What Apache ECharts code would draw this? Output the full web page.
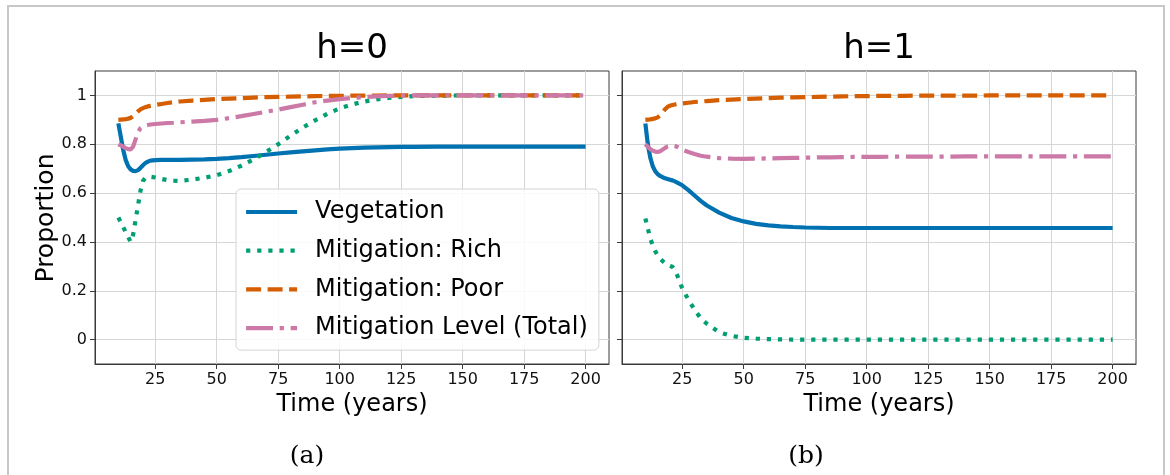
<!DOCTYPE html>
<html>
<head>
<meta charset="utf-8">
<script src="https://cdn.jsdelivr.net/npm/echarts@6/dist/echarts.min.js"></script>
<style>
html,body{margin:0;padding:0;background:#fff;}
#chart{width:1170px;height:475px;}
</style>
</head>
<body>
<div id="chart"></div>
<script>
// ---- data ----
var years = [10, 11, 12, 13, 14, 15, 16, 17, 18, 19, 20, 21, 22, 23, 25, 27.5, 30, 32.5, 35, 40, 45, 50, 55, 60, 65, 70, 75, 80, 85, 90, 95, 100, 105, 110, 115, 120, 125, 130, 140, 150, 175, 200];

// panel (a) h=0
var veg0  = [0.885, 0.83, 0.775, 0.735, 0.71, 0.697, 0.691, 0.69, 0.694, 0.703, 0.714, 0.723, 0.729, 0.733, 0.735, 0.736, 0.736, 0.736, 0.736, 0.737, 0.738, 0.740, 0.743, 0.747, 0.752, 0.757, 0.762, 0.767, 0.771, 0.775, 0.779, 0.782, 0.784, 0.786, 0.787, 0.788, 0.789, 0.789, 0.79, 0.79, 0.79, 0.79];
var rich0 = [0.50, 0.48, 0.46, 0.44, 0.42, 0.40, 0.43, 0.49, 0.55, 0.61, 0.65, 0.662, 0.667, 0.667, 0.664, 0.658, 0.653, 0.651, 0.650, 0.655, 0.663, 0.673, 0.69, 0.712, 0.738, 0.768, 0.800, 0.835, 0.868, 0.898, 0.925, 0.947, 0.963, 0.975, 0.984, 0.990, 0.994, 0.997, 0.999, 1.0, 1.0, 1.0];
var poor0 = [0.90, 0.901, 0.902, 0.903, 0.905, 0.908, 0.915, 0.925, 0.935, 0.943, 0.948, 0.952, 0.955, 0.957, 0.961, 0.965, 0.969, 0.972, 0.975, 0.979, 0.982, 0.985, 0.987, 0.989, 0.991, 0.993, 0.994, 0.995, 0.996, 0.997, 0.998, 0.998, 0.999, 0.999, 0.999, 1.0, 1.0, 1.0, 1.0, 1.0, 1.0, 1.0];
var tot0  = [0.80, 0.795, 0.79, 0.784, 0.78, 0.779, 0.79, 0.82, 0.85, 0.866, 0.873, 0.877, 0.879, 0.881, 0.883, 0.885, 0.887, 0.888, 0.89, 0.893, 0.896, 0.90, 0.907, 0.915, 0.924, 0.933, 0.942, 0.952, 0.962, 0.972, 0.979, 0.985, 0.99, 0.993, 0.996, 0.998, 0.999, 1.0, 1.0, 1.0, 1.0, 1.0];

// panel (b) h=1
var veg1  = [0.885, 0.80, 0.745, 0.71, 0.69, 0.678, 0.67, 0.665, 0.661, 0.658, 0.655, 0.652, 0.648, 0.643, 0.632, 0.612, 0.59, 0.568, 0.549, 0.52, 0.498, 0.484, 0.474, 0.468, 0.464, 0.461, 0.459, 0.458, 0.457, 0.457, 0.457, 0.457, 0.457, 0.457, 0.457, 0.457, 0.457, 0.457, 0.457, 0.457, 0.457, 0.457];
var rich1 = [0.496, 0.455, 0.415, 0.385, 0.362, 0.345, 0.332, 0.322, 0.313, 0.306, 0.302, 0.298, 0.285, 0.262, 0.21, 0.163, 0.123, 0.087, 0.065, 0.03, 0.015, 0.007, 0.004, 0.002, 0.001, 0.0, 0.0, 0.0, 0.0, 0.0, 0.0, 0.0, 0.0, 0.0, 0.0, 0.0, 0.0, 0.0, 0.0, 0.0, 0.0, 0.0];
var poor1 = [0.90, 0.901, 0.902, 0.904, 0.906, 0.91, 0.918, 0.93, 0.943, 0.953, 0.958, 0.961, 0.963, 0.965, 0.967, 0.97, 0.973, 0.975, 0.977, 0.981, 0.983, 0.985, 0.987, 0.989, 0.991, 0.992, 0.993, 0.994, 0.995, 0.996, 0.997, 0.997, 0.998, 0.998, 0.998, 0.999, 0.999, 0.999, 0.999, 1.0, 1.0, 1.0];
var tot1  = [0.80, 0.79, 0.78, 0.774, 0.77, 0.768, 0.771, 0.778, 0.785, 0.791, 0.794, 0.795, 0.793, 0.789, 0.778, 0.768, 0.76, 0.753, 0.749, 0.743, 0.741, 0.740, 0.741, 0.742, 0.743, 0.744, 0.745, 0.746, 0.746, 0.747, 0.748, 0.748, 0.748, 0.749, 0.749, 0.749, 0.749, 0.749, 0.75, 0.75, 0.75, 0.75];

var seriesNames = ['Vegetation', 'Mitigation: Rich', 'Mitigation: Poor', 'Mitigation Level (Total)'];
var panelTitles = ['h=0', 'h=1'];
var panelCaptions = ['(a)', '(b)'];
var xTicks = [25, 50, 75, 100, 125, 150, 175, 200];
var yTicks = [0, 0.2, 0.4, 0.6, 0.8, 1];

// ---- styling ----
var FONT = 'DejaVu Sans';
var colors = ['#0072B2', '#009E73', '#D55E00', '#CC79A7'];
var LW = 4.2;
var dashes = ['solid', [4.2, 6.9], [15, 6.5], [26.9, 6.7, 4.2, 6.7]];
var AX = '#3a3a3a';

function pair(vals) { return years.map(function (t, i) { return [t, vals[i]]; }); }

var panels = [[veg0, rich0, poor0, tot0], [veg1, rich1, poor1, tot1]];
var gridLefts = [95, 622];

var grids = [], xAxes = [], yAxes = [], series = [];
gridLefts.forEach(function (gl, p) {
  grids.push({ left: gl, top: 71, width: 514, height: 293, show: true, borderColor: AX, borderWidth: 1, backgroundColor: 'transparent' });
  xAxes.push({
    type: 'value', gridIndex: p, min: 0.5, max: 209.5,
    axisLine: { show: true, onZero: false, lineStyle: { color: AX, width: 1 } },
    axisTick: { show: true, length: 5, lineStyle: { color: AX }, customValues: xTicks },
    axisLabel: { show: true, margin: 8, fontSize: 16, fontFamily: FONT, color: '#111', customValues: xTicks },
    splitLine: { show: true, lineStyle: { color: '#d6d6d6', width: 1 } }
  });
  yAxes.push({
    type: 'value', gridIndex: p, min: -0.1, max: 1.1,
    axisLine: { show: true, onZero: false, lineStyle: { color: AX, width: 1 } },
    axisTick: { show: true, length: 5, lineStyle: { color: AX }, customValues: yTicks },
    axisLabel: { show: p === 0, margin: 8, fontSize: 16, fontFamily: FONT, color: '#111', customValues: yTicks,
      formatter: function (v) { return String(Math.round(v * 10) / 10); } },
    splitLine: { show: true, lineStyle: { color: '#d6d6d6', width: 1 } }
  });
  panels[p].forEach(function (vals, k) {
    series.push({
      name: seriesNames[k], type: 'line', xAxisIndex: p, yAxisIndex: p,
      data: pair(vals), showSymbol: false, symbol: 'none', smooth: false,
      lineStyle: { color: colors[k], width: LW, type: dashes[k], cap: 'butt' },
      itemStyle: { color: colors[k] },
      z: 3 + k
    });
  });
});

var graphics = [
  { type: 'rect', shape: { x: 8, y: 6, width: 1156, height: 480 }, style: { fill: 'none', stroke: '#c8c8c8', lineWidth: 2 }, z: 0, silent: true },
  { type: 'text', x: 46, y: 218, rotation: Math.PI / 2, style: { text: 'Proportion', fontSize: 25, fontFamily: FONT, fill: '#000', align: 'center', verticalAlign: 'middle' } }
];
gridLefts.forEach(function (gl, p) {
  var cx = gl + 257;
  graphics.push({ type: 'text', x: cx, y: 49, style: { text: panelTitles[p], fontSize: 34, fontFamily: FONT, fill: '#000', align: 'center', verticalAlign: 'middle' } });
  graphics.push({ type: 'text', x: cx, y: 405, style: { text: 'Time (years)', fontSize: 24, fontFamily: FONT, fill: '#000', align: 'center', verticalAlign: 'middle' } });
});
graphics.push({ type: 'text', x: 307, y: 456, style: { text: panelCaptions[0], fontSize: 25, fontFamily: 'DejaVu Serif', fill: '#000', align: 'center', verticalAlign: 'middle' } });
graphics.push({ type: 'text', x: 806, y: 456, style: { text: panelCaptions[1], fontSize: 25, fontFamily: 'DejaVu Serif', fill: '#000', align: 'center', verticalAlign: 'middle' } });

var chart = echarts.init(document.getElementById('chart'), null, { renderer: 'canvas' });
chart.setOption({
  animation: false,
  backgroundColor: '#fff',
  grid: grids,
  xAxis: xAxes,
  yAxis: yAxes,
  legend: {
    data: seriesNames, orient: 'vertical', left: 236, top: 189,
    padding: [11, 11, 10, 8], itemWidth: 51, itemHeight: 14, itemGap: 14.7,
    itemStyle: { opacity: 0, borderWidth: 0 },
    lineStyle: { width: LW },
    backgroundColor: 'rgba(255,255,255,0.85)', borderColor: '#d4d4d4', borderWidth: 1, borderRadius: 5,
    textStyle: { fontSize: 24, fontFamily: FONT, color: '#000', lineHeight: 24, padding: [0, 0, 0, 13] },
    selectedMode: false
  },
  graphic: graphics,
  series: series
});
</script>
</body>
</html>
